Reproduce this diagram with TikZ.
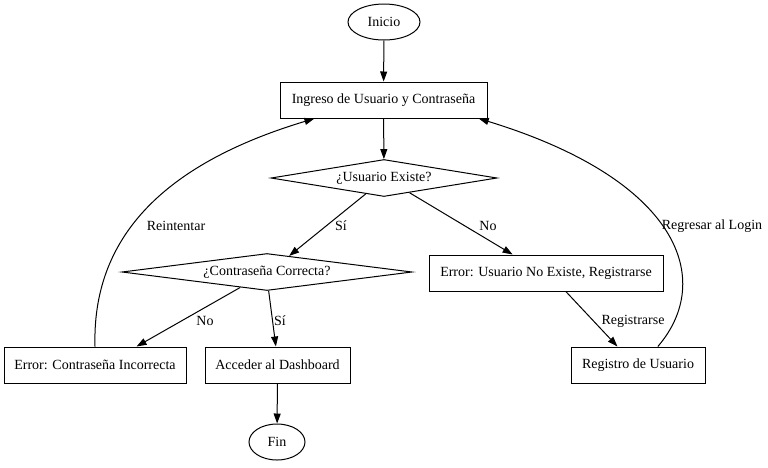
\documentclass[tikz,border=0pt]{standalone}
\usepackage{fontspec}
\setmainfont{Liberation Serif}
\usetikzlibrary{shapes.geometric,arrows.meta}
\begin{document}
\begin{tikzpicture}[x=1pt,y=-1pt,
  every node/.style={font=\fontsize{14}{16}\selectfont},
  term/.style={draw,ellipse,minimum height=36pt,inner sep=0pt,line width=1pt},
  box/.style={draw,rectangle,minimum height=36pt,inner sep=0pt,line width=1pt},
  dec/.style={draw,diamond,aspect=8,minimum height=37pt,inner sep=0pt,line width=1pt},
  arr/.style={line width=1pt,-{Triangle[length=10pt,width=7pt]}},
  lbl/.style={inner sep=0pt}]
\useasboundingbox (0,0) rectangle (768,467);
\node[term,minimum width=72pt] (ini) at (384,22) {Inicio};
\node[box,minimum width=207pt] (ig) at (383.5,100) {Ingreso de Usuario y Contraseña};
\node[dec,minimum width=226pt] (ue) at (384,178) {¿Usuario Existe?};
\node[dec,minimum width=290pt] (cc) at (267,272) {¿Contraseña Correcta?};
\node[box,minimum width=234pt] (eu) at (546,273) {Error: Usuario No Existe, Registrarse};
\node[box,minimum width=182pt] (ec) at (95,365) {Error: Contraseña Incorrecta};
\node[box,minimum width=145pt] (ac) at (277.5,365) {Acceder al Dashboard};
\node[box,minimum width=134pt] (rg) at (638,365) {Registro de Usuario};
\node[term,minimum width=56pt] (fin) at (277,442) {Fin};

\draw[arr] (ini) -- (ig);
\draw[arr] (ig) -- (ue);
\draw[arr] (ue.221) -- (cc.36);
\draw[arr] (ue.-30) -- (eu.151);
\draw[arr] (cc.210) -- (ec.24);
\draw[arr] (cc.-85) -- (ac.95);
\draw[arr] (ac) -- (fin);
\draw[arr] (eu.-43) -- (rg.138);
\draw[arr] (rg.43) .. controls (715,280) and (680,180) .. (ig.-11);
\draw[arr] (ec.north) .. controls (92,240) and (160,165) .. (ig.195);

\node[lbl] (l1) at (341,226) {Sí};
\node[lbl] (l2) at (488,226) {No};
\node[lbl] (l3) at (176,226) {Reintentar};
\node[lbl] (l4) at (712,226) {Regresar al Login};
\node[lbl] (l5) at (205,321) {No};
\node[lbl] (l6) at (280,321) {Sí};
\node[lbl] (l7) at (633,321) {Registrarse};
\end{tikzpicture}
\end{document}
